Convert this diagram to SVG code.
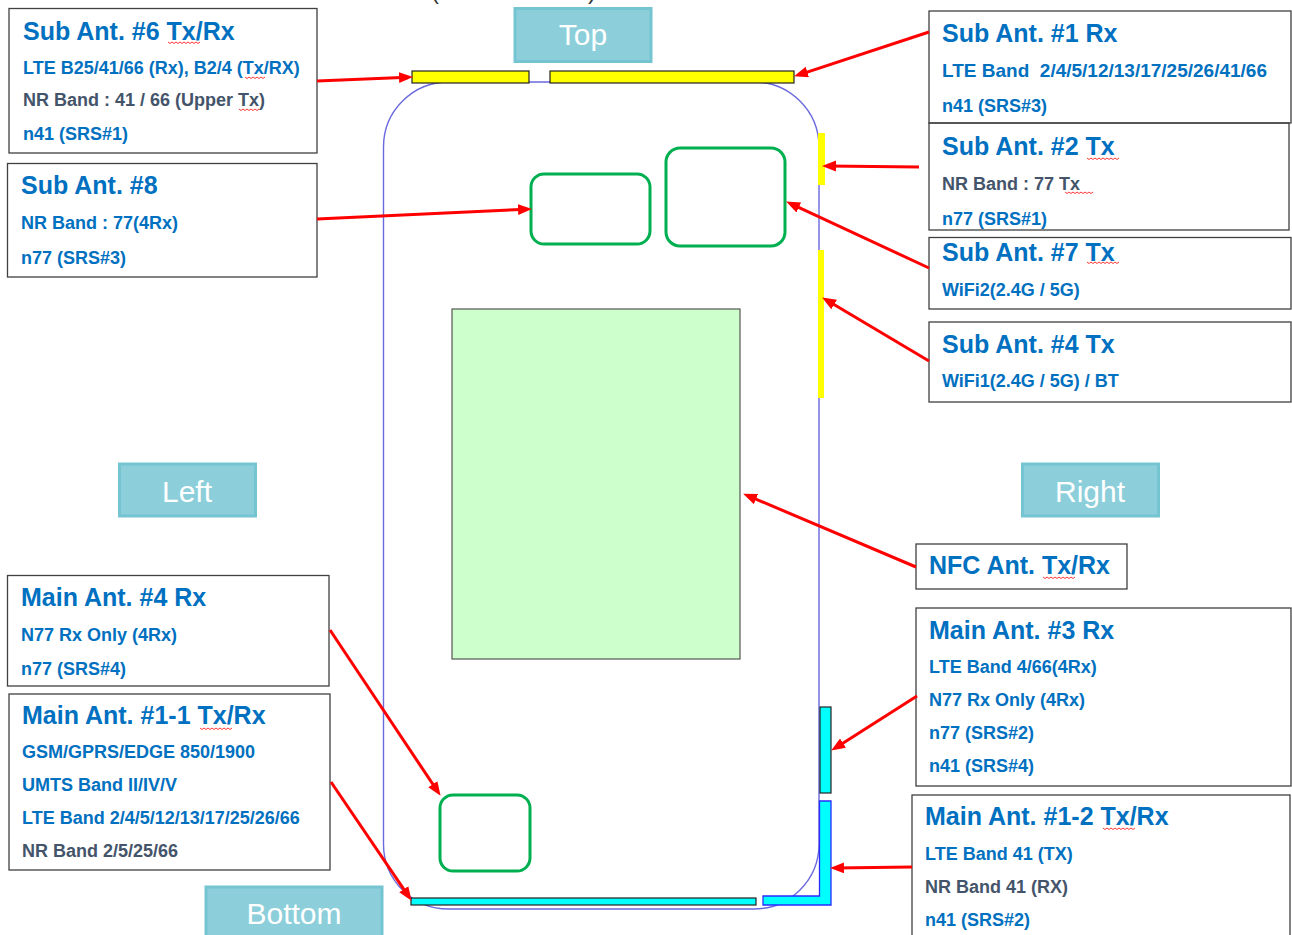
<svg xmlns="http://www.w3.org/2000/svg" width="1292" height="935" viewBox="0 0 1292 935">
<style>
.box{fill:#fff;stroke:#404040;stroke-width:1.3}
.t{font-family:"Liberation Sans",Arial,sans-serif;font-weight:bold;font-size:25px;fill:#0070c0}
.b{font-family:"Liberation Sans",Arial,sans-serif;font-weight:bold;font-size:18px;fill:#0070c0}
.g{fill:#44546a}
.lbl rect{fill:#8ccfdb;stroke:#74c4d2;stroke-width:3}
.lbl text{font-family:"Liberation Sans",Arial,sans-serif;font-size:30px;fill:#fff;text-anchor:middle}
.arr{stroke:#ff0000;stroke-width:3;fill:none;marker-end:url(#ah)}
.sq{fill:none;stroke:#ff2020;stroke-width:0.9}
.ant-y{fill:#ffff00;stroke:#222;stroke-width:1.2}
.ant-c{fill:#00ffff;stroke:#222;stroke-width:1.2}
.grn{fill:none;stroke:#00b050;stroke-width:3}
</style>
<defs>
<marker id="ah" markerUnits="userSpaceOnUse" markerWidth="15" markerHeight="12" refX="9" refY="5.5" orient="auto">
<path d="M0 0 L14 5.5 L0 11 z" fill="#ff0000"/>
</marker>
</defs>
<rect width="1292" height="935" fill="#fff"/>
<text x="431" y="-1" font-family="Liberation Sans,Arial,sans-serif" font-size="24" fill="#333">(</text>
<text x="588" y="-1" font-family="Liberation Sans,Arial,sans-serif" font-size="24" fill="#333">)</text>

<g id="phone">
<rect x="383.5" y="82" width="435.5" height="827" rx="65" ry="65" fill="none" stroke="#6a6ade" stroke-width="1.4"/>
</g>
<g id="nfc-area"><rect x="452" y="309" width="288" height="350" fill="#ccffcc" stroke="#555" stroke-width="1.2"/></g>
<g id="green-1"><rect x="531" y="174" width="119" height="70" rx="13" class="grn"/></g>
<g id="green-2"><rect x="666" y="148" width="119" height="98" rx="14" class="grn"/></g>
<g id="green-3"><rect x="440" y="795" width="90" height="76" rx="13" class="grn"/></g>

<g id="ant-top-left"><rect x="412" y="71" width="117" height="12" class="ant-y"/></g>
<g id="ant-top-right"><rect x="550" y="71" width="244" height="12" class="ant-y"/></g>
<g id="ant-right-small"><rect x="818" y="133" width="7" height="52" fill="#ffff00"/></g>
<g id="ant-right-long"><rect x="818" y="250" width="6" height="148" fill="#ffff00"/></g>
<g id="ant-right-cyan"><rect x="820" y="707" width="11" height="86" class="ant-c"/></g>
<g id="ant-bottom"><rect x="411" y="898" width="345" height="7" class="ant-c"/></g>
<g id="ant-corner"><path d="M763 896 L819.5 896 L819.5 801 L831 801 L831 905 L763 905 Z" fill="#00ffff" stroke="#2b2bff" stroke-width="1.3"/></g>

<g id="lbl-top" class="lbl"><rect x="515" y="8.5" width="136" height="53"/><text x="583" y="45">Top</text></g>
<g id="lbl-left" class="lbl"><rect x="119.5" y="464" width="136" height="52"/><text x="187" y="502">Left</text></g>
<g id="lbl-right" class="lbl"><rect x="1022.5" y="464" width="136" height="52"/><text x="1090" y="502">Right</text></g>
<g id="lbl-bottom" class="lbl"><rect x="206" y="887" width="176" height="60"/><text x="294" y="924">Bottom</text></g>

<g id="sub6">
<rect x="9" y="8.5" width="308" height="144.5" class="box"/>
<text x="23" y="40" class="t">Sub Ant. #6 Tx/Rx</text>
<text x="23" y="74" class="b">LTE B25/41/66 (Rx), B2/4 (Tx/RX)</text>
<text x="23" y="106" class="b g">NR Band : 41 / 66 (Upper Tx)</text>
<text x="23" y="140" class="b">n41 (SRS#1)</text>
</g>
<g id="sub8">
<rect x="7.5" y="163.5" width="309.5" height="113.5" class="box"/>
<text x="21" y="194" class="t">Sub Ant. #8</text>
<text x="21" y="229" class="b">NR Band : 77(4Rx)</text>
<text x="21" y="264" class="b">n77 (SRS#3)</text>
</g>
<g id="sub1">
<rect x="929" y="11" width="362" height="112" class="box"/>
<text x="942" y="42" class="t">Sub Ant. #1 Rx</text>
<text x="942" y="77" class="b" style="font-size:19px">LTE Band &#160;2/4/5/12/13/17/25/26/41/66</text>
<text x="942" y="112" class="b">n41 (SRS#3)</text>
</g>
<g id="sub2">
<rect x="929" y="123" width="360" height="107" class="box" style="fill:none"/>
<text x="942" y="155" class="t">Sub Ant. #2 Tx</text>
<text x="942" y="190" class="b g">NR Band : 77 Tx</text>
<text x="942" y="225" class="b">n77 (SRS#1)</text>
</g>
<g id="sub7">
<rect x="929" y="237.5" width="362" height="71.5" class="box"/>
<text x="942" y="261" class="t">Sub Ant. #7 Tx</text>
<text x="942" y="296" class="b">WiFi2(2.4G / 5G)</text>
</g>
<g id="sub4">
<rect x="929" y="322" width="362" height="80" class="box"/>
<text x="942" y="353" class="t">Sub Ant. #4 Tx</text>
<text x="942" y="387" class="b">WiFi1(2.4G / 5G) / BT</text>
</g>
<g id="nfc">
<rect x="916" y="544" width="211" height="45" class="box"/>
<text x="929" y="574" class="t">NFC Ant. Tx/Rx</text>
</g>
<g id="main3">
<rect x="916" y="608" width="375" height="178" class="box"/>
<text x="929" y="639" class="t">Main Ant. #3 Rx</text>
<text x="929" y="673" class="b">LTE Band 4/66(4Rx)</text>
<text x="929" y="706" class="b">N77 Rx Only (4Rx)</text>
<text x="929" y="739" class="b">n77 (SRS#2)</text>
<text x="929" y="772" class="b">n41 (SRS#4)</text>
</g>
<g id="main1-2">
<rect x="912" y="795" width="378" height="160" class="box"/>
<text x="925" y="825" class="t">Main Ant. #1-2 Tx/Rx</text>
<text x="925" y="860" class="b">LTE Band 41 (TX)</text>
<text x="925" y="893" class="b g">NR Band 41 (RX)</text>
<text x="925" y="926" class="b">n41 (SRS#2)</text>
</g>
<g id="main4">
<rect x="7.5" y="575.5" width="321.5" height="110.5" class="box"/>
<text x="21" y="606" class="t">Main Ant. #4 Rx</text>
<text x="21" y="641" class="b">N77 Rx Only (4Rx)</text>
<text x="21" y="675" class="b">n77 (SRS#4)</text>
</g>
<g id="main1-1">
<rect x="9" y="694" width="321" height="176" class="box"/>
<text x="22" y="724" class="t">Main Ant. #1-1 Tx/Rx</text>
<text x="22" y="758" class="b">GSM/GPRS/EDGE 850/1900</text>
<text x="22" y="791" class="b">UMTS Band II/IV/V</text>
<text x="22" y="824" class="b">LTE Band 2/4/5/12/13/17/25/26/66</text>
<text x="22" y="857" class="b g">NR Band 2/5/25/66</text>
</g>

<g id="spell-marks">
<path class="sq" d="M168 42 l2 1.5 2 -1.5 2 1.5 2 -1.5 2 1.5 2 -1.5 2 1.5 2 -1.5 2 1.5 2 -1.5 2 1.5 2 -1.5 2 1.5 2 -1.5 2 1.5 2 -1.5"/>
<path class="sq" d="M245 77 l2 1.5 2 -1.5 2 1.5 2 -1.5 2 1.5 2 -1.5 2 1.5 2 -1.5 2 1.5 2 -1.5"/>
<path class="sq" d="M239 109 l2 1.5 2 -1.5 2 1.5 2 -1.5 2 1.5 2 -1.5 2 1.5 2 -1.5 2 1.5 2 -1.5"/>
<path class="sq" d="M1087 158 l2 1.5 2 -1.5 2 1.5 2 -1.5 2 1.5 2 -1.5 2 1.5 2 -1.5 2 1.5 2 -1.5 2 1.5 2 -1.5 2 1.5 2 -1.5 2 1.5 2 -1.5"/>
<path class="sq" d="M1065 192 l2 1.5 2 -1.5 2 1.5 2 -1.5 2 1.5 2 -1.5 2 1.5 2 -1.5 2 1.5 2 -1.5 2 1.5 2 -1.5 2 1.5 2 -1.5"/>
<path class="sq" d="M1087 262 l2 1.5 2 -1.5 2 1.5 2 -1.5 2 1.5 2 -1.5 2 1.5 2 -1.5 2 1.5 2 -1.5 2 1.5 2 -1.5 2 1.5 2 -1.5 2 1.5 2 -1.5"/>
<path class="sq" d="M1043 577 l2 1.5 2 -1.5 2 1.5 2 -1.5 2 1.5 2 -1.5 2 1.5 2 -1.5 2 1.5 2 -1.5 2 1.5 2 -1.5 2 1.5 2 -1.5 2 1.5 2 -1.5"/>
<path class="sq" d="M200 728 l2 1.5 2 -1.5 2 1.5 2 -1.5 2 1.5 2 -1.5 2 1.5 2 -1.5 2 1.5 2 -1.5 2 1.5 2 -1.5 2 1.5 2 -1.5 2 1.5 2 -1.5"/>
<path class="sq" d="M1103 828 l2 1.5 2 -1.5 2 1.5 2 -1.5 2 1.5 2 -1.5 2 1.5 2 -1.5 2 1.5 2 -1.5 2 1.5 2 -1.5 2 1.5 2 -1.5 2 1.5 2 -1.5"/>
</g>

<g id="connectors">
<path class="arr" d="M317 81 L408 77.2"/>
<path class="arr" d="M929 32 L798.8 74.8"/>
<path class="arr" d="M919 167 L827 166"/>
<path class="arr" d="M929 268 L790.6 203.7"/>
<path class="arr" d="M929 361 L826.4 300"/>
<path class="arr" d="M317 219 L527 209.2"/>
<path class="arr" d="M916 567 L747.7 495.6"/>
<path class="arr" d="M917 696 L835.4 747.9"/>
<path class="arr" d="M912 867 L835 868"/>
<path class="arr" d="M330 630 L437.8 791.7"/>
<path class="arr" d="M331 782 L408.8 896.7"/>
</g>
</svg>
